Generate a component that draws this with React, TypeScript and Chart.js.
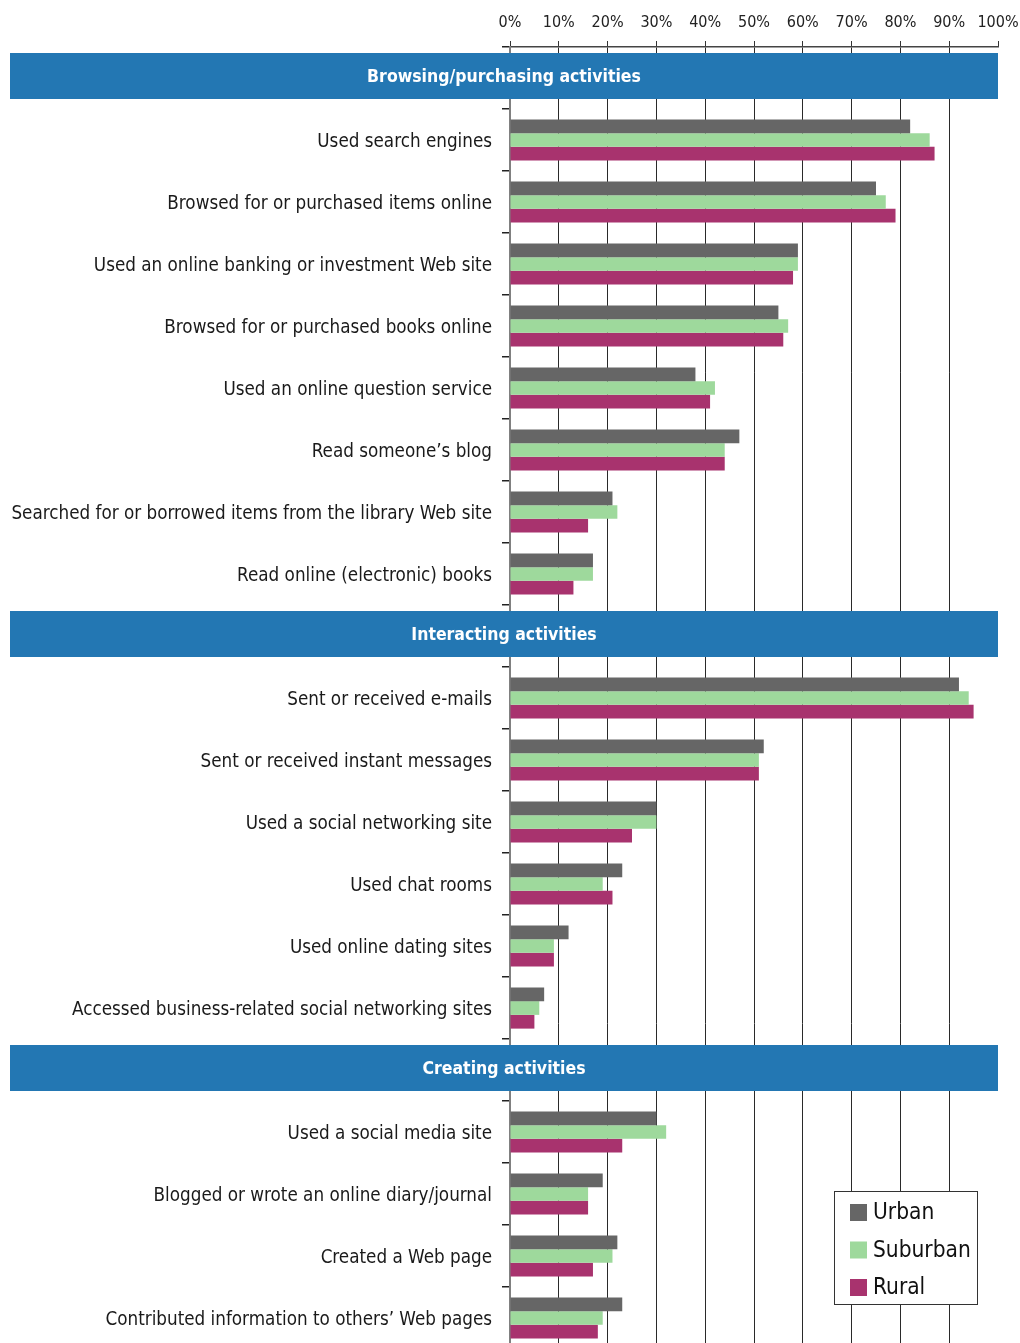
import React, { useEffect, useRef } from 'react';
import { Chart, registerables } from 'chart.js';

Chart.register(...registerables);

const FONT = '"DejaVu Sans Condensed", "DejaVu Sans", sans-serif';

const sectionTitles = ['Browsing/purchasing activities', 'Interacting activities', 'Creating activities'];

const browsingCategories = [
  'Used search engines',
  'Browsed for or purchased items online',
  'Used an online banking or investment Web site',
  'Browsed for or purchased books online',
  'Used an online question service',
  'Read someone\u2019s blog',
  'Searched for or borrowed items from the library Web site',
  'Read online (electronic) books',
];
const interactingCategories = [
  'Sent or received e-mails',
  'Sent or received instant messages',
  'Used a social networking site',
  'Used chat rooms',
  'Used online dating sites',
  'Accessed business-related social networking sites',
];
const creatingCategories = [
  'Used a social media site',
  'Blogged or wrote an online diary/journal',
  'Created a Web page',
  'Contributed information to others\u2019 Web pages',
];

const urbanBrowsing = [82, 75, 59, 55, 38, 47, 21, 17];
const suburbanBrowsing = [86, 77, 59, 57, 42, 44, 22, 17];
const ruralBrowsing = [87, 79, 58, 56, 41, 44, 16, 13];
const urbanInteracting = [92, 52, 30, 23, 12, 7];
const suburbanInteracting = [94, 51, 30, 19, 9, 6];
const ruralInteracting = [95, 51, 25, 21, 9, 5];
const urbanCreating = [30, 19, 22, 23];
const suburbanCreating = [32, 16, 21, 19];
const ruralCreating = [23, 16, 17, 18];

const seriesNames = ['Urban', 'Suburban', 'Rural'];
const seriesColors = ['#666666', '#9ED99C', '#A8336E'];
const headerColor = '#2377B3';

const sections = [
  { title: sectionTitles[0], cats: browsingCategories, vals: [urbanBrowsing, suburbanBrowsing, ruralBrowsing] },
  { title: sectionTitles[1], cats: interactingCategories, vals: [urbanInteracting, suburbanInteracting, ruralInteracting] },
  { title: sectionTitles[2], cats: creatingCategories, vals: [urbanCreating, suburbanCreating, ruralCreating] },
];

const labels: string[] = [];
const headerRows: { index: number; title: string }[] = [];
const seriesData: (number | null)[][] = [[], [], []];
sections.forEach((s) => {
  headerRows.push({ index: labels.length, title: s.title });
  labels.push('');
  seriesData.forEach((arr) => arr.push(null));
  s.cats.forEach((c, i) => {
    labels.push(c);
    seriesData.forEach((arr, k) => arr.push(s.vals[k][i]));
  });
});

const decorPlugin = {
  id: 'decor',
  afterDraw(chart: any) {
    const ctx = chart.ctx;
    const y = chart.scales.y;
    const area = chart.chartArea;
    ctx.save();
    headerRows.forEach((h) => {
      const cy = y.getPixelForValue(h.index);
      const top = Math.round(cy - 25);
      ctx.fillStyle = headerColor;
      ctx.fillRect(10, top, area.right - 10, 46);
      ctx.fillStyle = '#ffffff';
      ctx.font = 'bold 17.5px ' + FONT;
      ctx.textAlign = 'center';
      ctx.textBaseline = 'middle';
      ctx.fillText(h.title, (10 + area.right) / 2, top + 24);
    });
    // legend
    const bx = 834.5, by = 1191.5, bw = 143, bh = 113;
    ctx.fillStyle = '#ffffff';
    ctx.fillRect(bx, by, bw, bh);
    ctx.strokeStyle = '#333333';
    ctx.lineWidth = 1;
    ctx.strokeRect(bx, by, bw, bh);
    const centers = [1212.5, 1250, 1287.5];
    chart.data.datasets.forEach((ds: any, i: number) => {
      ctx.fillStyle = ds.backgroundColor;
      ctx.fillRect(850, centers[i] - 8.5, 17, 17);
      ctx.fillStyle = '#111111';
      ctx.font = '22.5px ' + FONT;
      ctx.textAlign = 'left';
      ctx.textBaseline = 'middle';
      ctx.fillText(ds.label, 873, centers[i] + 1);
    });
    ctx.restore();
  },
};

export default function App() {
  const ref = useRef<HTMLCanvasElement>(null);
  useEffect(() => {
    if (!ref.current) return;
    const chart = new Chart(ref.current, {
      type: 'bar',
      data: {
        labels,
        datasets: seriesNames.map((n, i) => ({
          label: n,
          data: seriesData[i],
          backgroundColor: seriesColors[i],
          borderWidth: 0,
          categoryPercentage: 0.665,
          barPercentage: 1,
        })),
      },
      options: {
        indexAxis: 'y',
        animation: false,
        responsive: false,
        devicePixelRatio: 1,
        layout: { padding: { left: 0, right: 22, top: 0, bottom: 0 } },
        plugins: { legend: { display: false }, tooltip: { enabled: false } },
        scales: {
          x: {
            position: 'top',
            min: 0,
            max: 100,
            ticks: {
              stepSize: 10,
              callback: (v: any) => v + '%',
              font: { family: FONT, size: 16 },
              color: '#222222',
              padding: 9,
              maxRotation: 0,
            },
            grid: {
              color: (c: any) => (c.tick && (c.tick.value === 0 || c.tick.value === 100) ? 'rgba(0,0,0,0)' : '#2a2a2a'),
              tickColor: '#333333',
              tickLength: 6,
              lineWidth: 1,
            },
            border: { color: '#444444', width: 1.5 },
            afterFit: (s: any) => { s.height = 47; s.paddingLeft = 0; s.paddingRight = 0; },
          },
          y: {
            ticks: {
              font: { family: FONT, size: 18.7 },
              color: '#1a1a1a',
              padding: 10,
              labelOffset: 2,
              autoSkip: false,
            },
            grid: {
              offset: true,
              drawOnChartArea: false,
              tickLength: 8,
              tickColor: '#222222',
              lineWidth: 1.5,
            },
            border: { color: '#808080', width: 2 },
            afterFit: (s: any) => { s.width = 510; s.paddingTop = 0; s.paddingBottom = 0; },
          },
        },
      },
      plugins: [decorPlugin],
    });
    return () => chart.destroy();
  }, []);
  return (
    <div style={{ position: 'absolute', left: 0, top: 0, width: 1020, height: 1343, overflow: 'hidden', background: '#fff' }}>
      <canvas ref={ref} width={1020} height={1349} style={{ display: 'block' }} />
    </div>
  );
}
